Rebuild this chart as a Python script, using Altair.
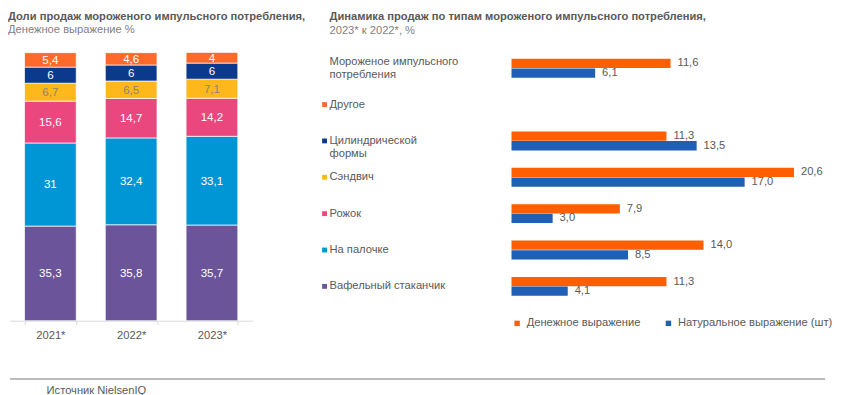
import altair as alt
import pandas as pd

# ---------------- data ----------------
years = ["2021*", "2022*", "2023*"]
segments = ["Вафельный стаканчик", "На палочке", "Рожок", "Сэндвич",
            "Цилиндрической формы", "Другое"]          # bottom -> top
share_2021 = [35.3, 31, 15.6, 6.7, 6, 5.4]
share_2022 = [35.8, 32.4, 14.7, 6.5, 6, 4.6]
share_2023 = [35.7, 33.1, 14.2, 7.1, 6, 4]

rows = ["Мороженое импульсного потребления", "Другое", "Цилиндрической формы",
        "Сэндвич", "Рожок", "На палочке", "Вафельный стаканчик"]
row_labels = ["Мороженое импульсного\nпотребления", "Другое", "Цилиндрической\nформы",
              "Сэндвич", "Рожок", "На палочке", "Вафельный стаканчик"]
series = ["Денежное выражение", "Натуральное выражение (шт)"]
growth_money = [11.6, None, 11.3, 20.6, 7.9, 14.0, 11.3]
growth_volume = [6.1, None, 13.5, 17.0, 3.0, 8.5, 4.1]
source_text = ["Источник NielsenIQ"]

# ---------------- styles ----------------
seg_colors = ["#6B5499", "#0096D6", "#E9477E", "#FFB81C", "#0B3A8D", "#FF6A2A"]
series_colors = ["#FF5F00", "#1F5FB5"]
GREY = "#595959"
FONT = "Liberation Sans"
FS = 11.3

# ---------------- frames ----------------
share_rows = []
for y, vals in zip(years, [share_2021, share_2022, share_2023]):
    for i, (s, v) in enumerate(zip(segments, vals)):
        share_rows.append({"year": y, "segment": s, "value": v, "order": i})
share_df = pd.DataFrame(share_rows)

g_rows = []
for r, m, v in zip(rows, growth_money, growth_volume):
    g_rows.append({"row": r, "series": series[0], "value": m})
    g_rows.append({"row": r, "series": series[1], "value": v})
growth_df = pd.DataFrame(g_rows)

label_df = pd.DataFrame({"row": rows, "label": row_labels})
source_df = pd.DataFrame({"text": source_text})

# ---------------- left: stacked shares ----------------
left_base = alt.Chart(share_df).transform_stack(
    stack="value", groupby=["year"],
    sort=[alt.SortField("order", order="ascending")],
    as_=["y0", "y1"],
).transform_calculate(
    mid="(datum.y0 + datum.y1) / 2",
    lbl="replace(toString(datum.value), '.', ',')",
)

x_left = alt.X(
    "year:N", sort=years,
    scale=alt.Scale(paddingInner=0.36, paddingOuter=0.18),
    axis=alt.Axis(title=None, labelAngle=0, tickBand="extent",
                  domainColor="#d9d9d9", tickColor="#d9d9d9", tickSize=4,
                  labelColor=GREY, labelFontSize=FS, labelPadding=5, labelFont=FONT),
)

left_bars = left_base.mark_bar(stroke="white", strokeWidth=0.7).encode(
    x=x_left,
    y=alt.Y("y0:Q", scale=alt.Scale(domain=[0, 100], nice=False), axis=None),
    y2="y1:Q",
    color=alt.Color("segment:N", scale=alt.Scale(domain=segments, range=seg_colors), legend=None),
)
left_text = left_base.mark_text(fontSize=FS + 0.4, font=FONT, baseline="middle").encode(
    x=x_left,
    y=alt.Y("mid:Q"),
    text="lbl:N",
    color=alt.condition("datum.segment == 'Сэндвич'", alt.value("#8C8276"), alt.value("white")),
)

left = alt.layer(left_bars, left_text).properties(
    width=245, height=271,
    title=alt.TitleParams(
        text="Доли продаж мороженого импульсного потребления,",
        subtitle="Денежное выражение %",
        anchor="start", frame="group", dx=-2,
        fontSize=FS, fontWeight="bold", color=GREY, font=FONT,
        subtitleFontSize=FS, subtitleColor="#7f7f7f", subtitleFont=FONT,
        subtitlePadding=2, offset=17,
    ),
)

# ---------------- right: growth bars ----------------
y_right = alt.Y("row:N", scale=alt.Scale(domain=rows, paddingInner=0.48, paddingOuter=0.1676), axis=None)
yoff = alt.YOffset("series:N", scale=alt.Scale(domain=series, paddingInner=0.04, paddingOuter=0))

gbase = alt.Chart(growth_df).transform_filter("isValid(datum.value)").transform_calculate(
    lbl="replace(format(datum.value, '.1f'), '.', ',')"
)
right_bars = gbase.mark_bar().encode(
    x=alt.X("value:Q", scale=alt.Scale(domain=[0, 22], nice=False), axis=None),
    y=y_right,
    yOffset=yoff,
    color=alt.Color(
        "series:N", scale=alt.Scale(domain=series, range=series_colors),
        legend=alt.Legend(orient="none", legendX=0, legendY=268, direction="horizontal",
                          title=None, symbolType="square", symbolSize=30, symbolStrokeWidth=0,
                          labelFontSize=FS, labelColor=GREY, labelFont=FONT, labelLimit=300,
                          columnPadding=22, labelOffset=4),
    ),
)
right_vals = gbase.mark_text(align="left", baseline="middle", dx=7, fontSize=FS,
                             font=FONT, color=GREY).encode(
    x="value:Q", y=y_right, yOffset=yoff, text="lbl:N",
)

lbase = alt.Chart(label_df)
row_text_first = lbase.transform_filter(f"datum.row == '{rows[0]}'").mark_text(
    align="left", baseline="middle", lineBreak="\n", lineHeight=13.5, dy=-6.5,
    fontSize=FS, font=FONT, color=GREY,
).encode(x=alt.value(-184), y=y_right, text="label:N")
row_text_rest = lbase.transform_filter(f"datum.row != '{rows[0]}'").mark_text(
    align="left", baseline="middle", lineBreak="\n", lineHeight=13.5,
    fontSize=FS, font=FONT, color=GREY,
).encode(x=alt.value(-184), y=y_right, text="label:N")
row_marks = lbase.transform_filter(f"datum.row != '{rows[0]}'").mark_square(size=24, opacity=1).encode(
    x=alt.value(-189), y=y_right,
    color=alt.Color("row:N", scale=alt.Scale(domain=segments, range=seg_colors), legend=None),
)

right = alt.layer(right_bars, right_vals, row_text_first, row_text_rest, row_marks).resolve_scale(
    color="independent"
).properties(
    width=305, height=252,
    title=alt.TitleParams(
        text="Динамика продаж по типам мороженого импульсного потребления,",
        subtitle="2023* к 2022*, %",
        anchor="start", frame="group", dx=-184,
        fontSize=FS, fontWeight="bold", color=GREY, font=FONT,
        subtitleFontSize=FS, subtitleColor="#7f7f7f", subtitleFont=FONT,
        subtitlePadding=2, offset=17,
    ),
)

# ---------------- footer ----------------
fbase = alt.Chart(source_df)
f_rule = fbase.mark_rule(color="#a6a6a6", strokeWidth=1.5).encode(
    x=alt.value(0), x2=alt.value(824), y=alt.value(0)
)
f_text = fbase.mark_text(align="left", baseline="middle", fontSize=FS, font=FONT, color=GREY).encode(
    x=alt.value(37), y=alt.value(12), text="text:N"
)
footer = alt.layer(f_rule, f_text).properties(width=800, height=17)

top = alt.HConcatChart(hconcat=[left, right], spacing=262, bounds="flush").resolve_scale(color="independent")
chart = alt.vconcat(top, footer, spacing=37).properties(padding=0).configure(
    font=FONT, view=alt.ViewConfig(stroke=None)
)

chart.save("out.html", embed_options={"renderer": "svg", "actions": False})
